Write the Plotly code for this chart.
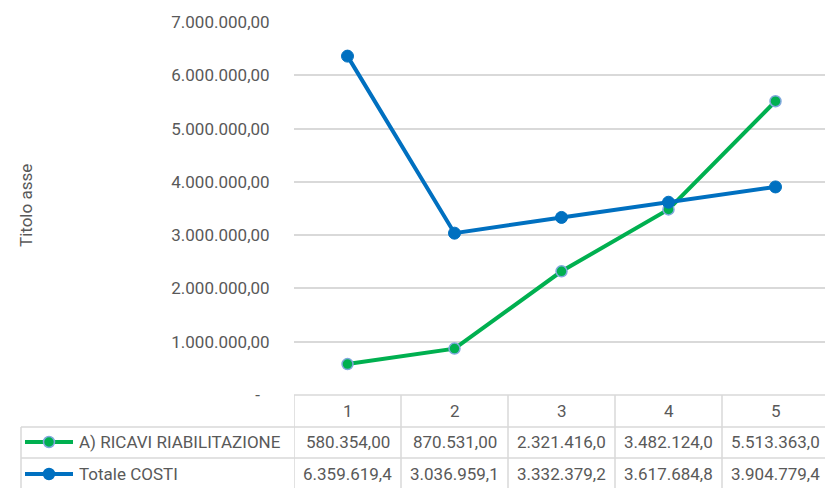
import plotly.graph_objects as go

# ---- data ----
categories = [1, 2, 3, 4, 5]
series_names = ["A) RICAVI RIABILITAZIONE", "Totale COSTI"]
ricavi = [580354.00, 870531.00, 2321416.00, 3482124.00, 5513363.00]
costi = [6359619.40, 3036959.10, 3332379.20, 3617684.80, 3904779.40]
y_tickvals = [0, 1000000, 2000000, 3000000, 4000000, 5000000, 6000000, 7000000]
y_title = "Titolo asse"

# ---- style ----
FONT = "Roboto, Noto Sans, sans-serif"
FS = 17
TXT = "#595959"
GRID = "#D9D9D9"
GREEN = "#00B050"
BLUE = "#0070C0"
OFF = 8  # page body margin
W, H = 833 - OFF, 488 - OFF
PL, PR, PT, PB = 294, 829, 22, 395  # plot area in window pixels
L, R, T, B = PL - OFF, W - (PR - OFF), PT - OFF, H - (PB - OFF)
PW, PH = W - L - R, H - T - B


def it_fmt(v, dec=2):
    s = f"{v:,.{dec}f}"
    return s.replace(",", "X").replace(".", ",").replace("X", ".")


def tick_label(v):
    return "-\u2007" if v == 0 else it_fmt(v)


def cell_text(v):
    # Excel data table clips long numbers to the cell width
    return it_fmt(v)[:11]


def py(pix):  # window pixel y -> paper y
    return (PB - pix) / PH


def px(pix):  # window pixel x -> paper x
    return (pix - PL) / PW


fig = go.Figure()
fig.add_trace(go.Scatter(
    x=categories, y=ricavi, name=series_names[0], mode="lines+markers",
    line=dict(color=GREEN, width=4),
    marker=dict(color=GREEN, size=11, line=dict(color="#7FA8DC", width=1.5)),
))
fig.add_trace(go.Scatter(
    x=categories, y=costi, name=series_names[1], mode="lines+markers",
    line=dict(color=BLUE, width=4),
    marker=dict(color=BLUE, size=12, line=dict(color=BLUE, width=1)),
))

shapes = []
annots = []
row_tops = [395, 427, 458]
bottom = 492
shapes.append(dict(type="line", xref="x", yref="paper", x0=0.5, x1=5.5,
                   y0=py(row_tops[0]), y1=py(row_tops[0]), line=dict(color=GRID, width=1.5)))
for yy in row_tops[1:]:
    shapes.append(dict(type="line", xref="paper", yref="paper", x0=px(21), x1=1,
                       y0=py(yy), y1=py(yy), line=dict(color=GRID, width=1.5)))
for k in range(len(categories) + 1):
    xv = categories[0] - 0.5 + k
    shapes.append(dict(type="line", xref="x", yref="paper", x0=xv, x1=xv,
                       y0=py(row_tops[0]), y1=py(bottom), line=dict(color=GRID, width=1.5)))
shapes.append(dict(type="line", xref="paper", yref="paper", x0=px(21), x1=px(21),
                   y0=py(row_tops[1]), y1=py(bottom), line=dict(color=GRID, width=1.5)))

for c in categories:
    annots.append(dict(x=c, y=py(411), xref="x", yref="paper", text=str(c),
                       showarrow=False, xanchor="center", yanchor="middle",
                       font=dict(family=FONT, size=FS, color=TXT)))

rows = [(series_names[0], ricavi, GREEN, "#7FA8DC", 442), (series_names[1], costi, BLUE, BLUE, 474)]
for name, vals, col, mcol, yc in rows:
    for c, v in zip(categories, vals):
        annots.append(dict(x=c, y=py(yc), xref="x", yref="paper", text=cell_text(v),
                           showarrow=False, xanchor="center", yanchor="middle",
                           font=dict(family=FONT, size=FS, color=TXT)))
    annots.append(dict(x=px(77), y=py(yc), xref="paper", yref="paper", text=name,
                       showarrow=False, xanchor="left", yanchor="middle",
                       font=dict(family=FONT, size=FS, color=TXT)))
    shapes.append(dict(type="line", xref="paper", yref="paper", x0=px(25), x1=px(73),
                       y0=py(yc), y1=py(yc), line=dict(color=col, width=4)))
    shapes.append(dict(type="circle", xref="paper", yref="paper",
                       x0=px(43.5), x1=px(54.5), y0=py(yc - 5.5), y1=py(yc + 5.5),
                       fillcolor=col, line=dict(color=mcol, width=1.5)))

annots.append(dict(x=px(26), y=py(206), xref="paper", yref="paper", text=y_title,
                   showarrow=False, textangle=-90, xanchor="center", yanchor="middle",
                   font=dict(family=FONT, size=FS, color=TXT)))

fig.update_layout(
    width=W, height=H,
    margin=dict(l=L, r=R, t=T, b=B),
    paper_bgcolor="white", plot_bgcolor="white",
    showlegend=False,
    shapes=shapes, annotations=annots,
    font=dict(family=FONT, size=FS, color=TXT),
)
fig.update_xaxes(range=[0.5, 5.5], showgrid=False, showticklabels=False,
                 zeroline=False, showline=False, ticks="")
fig.update_yaxes(range=[0, 7000000], tickvals=y_tickvals,
                 ticktext=[tick_label(v) for v in y_tickvals],
                 showgrid=True, gridcolor=GRID, gridwidth=1.5, zeroline=False,
                 showline=False, ticks="outside", ticklen=20, tickcolor="rgba(0,0,0,0)",
                 tickfont=dict(family=FONT, size=FS, color=TXT))

fig.write_html("out.html")
